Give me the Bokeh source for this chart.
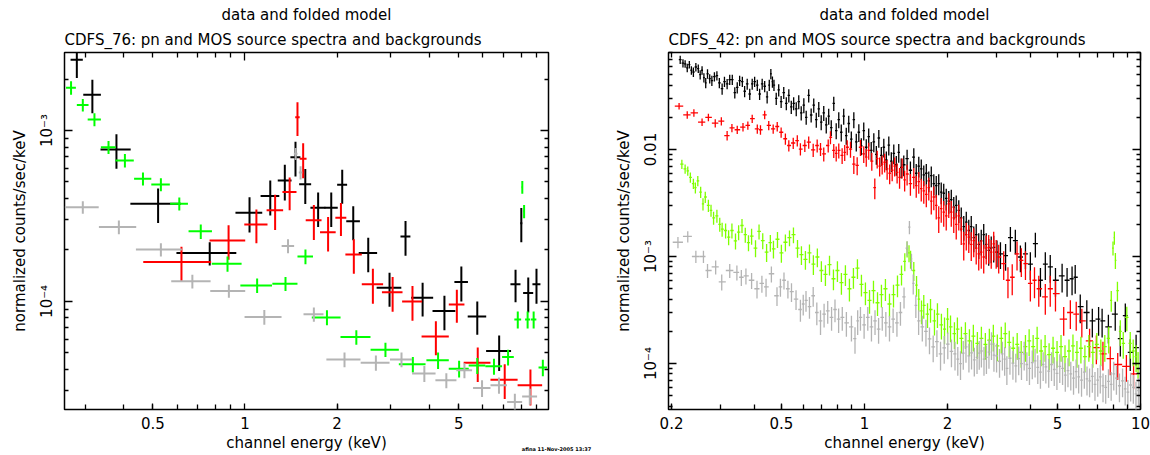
from bokeh.plotting import figure
from bokeh.layouts import row, column
from bokeh.models import Range1d, LogAxis, FixedTicker, CustomJSTickFormatter, Title
from bokeh.core.properties import value
from bokeh.embed import file_html
from bokeh.resources import INLINE

FONT = "DejaVu Sans"

# ---------------- LEFT PANEL (CDFS_76) : (energy keV, half-width keV, value, error)
L_BLACK = [
    (0.282, 0.013, 2.59e-3, 0.56e-3), (0.317, 0.021, 1.62e-3, 0.36e-3),
    (0.380, 0.043, 7.74e-4, 1.77e-4), (0.520, 0.098, 3.73e-4, 0.85e-4),
    (0.767, 0.170, 1.92e-4, 0.30e-4), (1.035, 0.104, 3.30e-4, 0.77e-4),
    (1.210, 0.085, 4.14e-4, 0.96e-4), (1.350, 0.070, 5.10e-4, 1.20e-4),
    (1.463, 0.055, 6.98e-4, 1.60e-4), (1.575, 0.071, 4.84e-4, 1.12e-4),
    (1.735, 0.098, 3.53e-4, 0.81e-4), (1.915, 0.096, 3.53e-4, 0.81e-4),
    (2.080, 0.078, 4.81e-4, 1.08e-4), (2.260, 0.116, 2.94e-4, 0.66e-4),
    (2.530, 0.175, 1.92e-4, 0.44e-4), (2.970, 0.275, 1.20e-4, 0.27e-4),
    (3.350, 0.125, 2.40e-4, 0.55e-4), (3.810, 0.315, 1.05e-4, 0.235e-4),
    (4.490, 0.385, 0.878e-4, 0.20e-4), (5.100, 0.260, 1.30e-4, 0.30e-4),
    (5.750, 0.400, 0.817e-4, 0.18e-4), (6.780, 0.635, 0.512e-4, 0.12e-4),
    (7.670, 0.290, 1.26e-4, 0.27e-4), (8.010, 0.060, 2.87e-4, 0.65e-4),
    (8.440, 0.320, 1.12e-4, 0.26e-4), (8.980, 0.270, 1.26e-4, 0.29e-4),
]
L_RED = [
    (0.620, 0.155, 1.70e-4, 0.39e-4), (0.884, 0.118, 2.27e-4, 0.52e-4),
    (1.090, 0.095, 2.82e-4, 0.63e-4), (1.255, 0.078, 3.41e-4, 0.79e-4),
    (1.400, 0.074, 4.36e-4, 0.95e-4), (1.485, 0.025, 1.196e-3, 0.266e-3),
    (1.550, 0.040, 6.83e-4, 1.58e-4), (1.680, 0.100, 2.98e-4, 0.69e-4),
    (1.870, 0.110, 2.54e-4, 0.58e-4), (2.060, 0.085, 3.09e-4, 0.68e-4),
    (2.270, 0.140, 1.88e-4, 0.43e-4), (2.620, 0.210, 1.26e-4, 0.29e-4),
    (3.040, 0.235, 1.13e-4, 0.26e-4), (3.530, 0.265, 1.00e-4, 0.23e-4),
    (4.210, 0.430, 0.624e-4, 0.14e-4), (4.930, 0.290, 0.96e-4, 0.21e-4),
    (5.770, 0.580, 0.438e-4, 0.10e-4), (7.070, 0.720, 0.348e-4, 0.08e-4),
    (8.580, 0.790, 0.323e-4, 0.077e-4),
]
L_GREEN = [
    (0.270, 0.010, 1.78e-3, 0.16e-3), (0.295, 0.013, 1.41e-3, 0.12e-3),
    (0.322, 0.016, 1.16e-3, 0.10e-3), (0.358, 0.020, 7.99e-4, 0.70e-4),
    (0.405, 0.028, 6.68e-4, 0.60e-4), (0.464, 0.030, 5.22e-4, 0.45e-4),
    (0.531, 0.037, 4.83e-4, 0.42e-4), (0.610, 0.041, 3.73e-4, 0.33e-4),
    (0.717, 0.063, 2.57e-4, 0.25e-4), (0.877, 0.098, 1.66e-4, 0.17e-4),
    (1.096, 0.130, 1.24e-4, 0.12e-4), (1.357, 0.128, 1.27e-4, 0.12e-4),
    (1.577, 0.092, 1.83e-4, 0.18e-4), (1.854, 0.200, 0.806e-4, 0.08e-4),
    (2.313, 0.260, 0.618e-4, 0.06e-4), (2.880, 0.305, 0.522e-4, 0.05e-4),
    (3.540, 0.355, 0.428e-4, 0.045e-4), (4.280, 0.360, 0.452e-4, 0.05e-4),
    (5.015, 0.377, 0.404e-4, 0.045e-4), (5.750, 0.360, 0.421e-4, 0.045e-4),
    (6.520, 0.410, 0.417e-4, 0.045e-4), (7.250, 0.320, 0.472e-4, 0.05e-4),
    (7.800, 0.200, 0.784e-4, 0.09e-4), (8.070, 0.040, 4.66e-4, 0.40e-4),
    (8.180, 0.040, 3.37e-4, 0.30e-4), (8.400, 0.160, 0.784e-4, 0.09e-4),
    (8.790, 0.180, 0.784e-4, 0.09e-4), (9.420, 0.300, 0.410e-4, 0.045e-4),
]
L_GREY = [
    (0.295, 0.0375, 3.56e-4, 0.30e-4), (0.387, 0.054, 2.72e-4, 0.25e-4),
    (0.531, 0.091, 2.01e-4, 0.18e-4), (0.673, 0.099, 1.31e-4, 0.12e-4),
    (0.886, 0.116, 1.15e-4, 0.10e-4), (1.157, 0.160, 0.81e-4, 0.08e-4),
    (1.383, 0.065, 2.11e-4, 0.20e-4), (1.465, 0.020, 7.31e-4, 0.60e-4),
    (1.520, 0.020, 5.67e-4, 0.50e-4), (1.680, 0.126, 0.841e-4, 0.08e-4),
    (2.116, 0.270, 0.457e-4, 0.045e-4), (2.680, 0.290, 0.438e-4, 0.045e-4),
    (3.250, 0.270, 0.457e-4, 0.045e-4), (3.860, 0.340, 0.378e-4, 0.04e-4),
    (4.555, 0.360, 0.345e-4, 0.035e-4), (5.220, 0.310, 0.395e-4, 0.04e-4),
    (5.960, 0.390, 0.311e-4, 0.035e-4), (6.770, 0.420, 0.323e-4, 0.035e-4),
    (7.630, 0.430, 0.258e-4, 0.03e-4), (8.540, 0.480, 0.278e-4, 0.03e-4),
]

# ---------------- RIGHT PANEL (CDFS_42) : (energy keV, value, relative error)
R_BLACK = [
    (0.215, 0.069, .09), (0.220, 0.064, .09), (0.224, 0.063, .08), (0.228, 0.058, .09),
    (0.232, 0.062, .08), (0.236, 0.055, .09), (0.240, 0.053, .10), (0.245, 0.059, .09),
    (0.250, 0.057, .09), (0.254, 0.050, .10), (0.258, 0.055, .09), (0.262, 0.047, .10),
    (0.266, 0.042, .11), (0.270, 0.051, .10), (0.275, 0.046, .10), (0.280, 0.044, .11),
    (0.286, 0.048, .10), (0.292, 0.049, .10), (0.298, 0.042, .11), (0.305, 0.037, .12),
    (0.311, 0.043, .11), (0.318, 0.041, .11), (0.325, 0.045, .11), (0.332, 0.045, .11),
    (0.339, 0.034, .12), (0.346, 0.038, .12), (0.353, 0.044, .11), (0.361, 0.043, .11),
    (0.368, 0.035, .12), (0.376, 0.041, .12), (0.384, 0.033, .12), (0.392, 0.041, .12),
    (0.400, 0.043, .11), (0.409, 0.040, .12), (0.417, 0.033, .12), (0.426, 0.041, .12),
    (0.435, 0.039, .12), (0.444, 0.031, .13), (0.452, 0.040, .12), (0.458, 0.051, .11),
    (0.464, 0.043, .12), (0.470, 0.040, .12), (0.479, 0.030, .13), (0.489, 0.036, .13),
    (0.499, 0.028, .13), (0.510, 0.034, .13), (0.521, 0.027, .14), (0.532, 0.032, .14),
    (0.543, 0.025, .14), (0.554, 0.027, .14), (0.566, 0.024, .15), (0.578, 0.028, .15),
    (0.590, 0.022, .15), (0.603, 0.026, .16), (0.615, 0.020, .15), (0.628, 0.032, .14),
    (0.641, 0.021, .15), (0.655, 0.026, .15), (0.669, 0.019, .16), (0.683, 0.024, .16),
    (0.697, 0.018, .16), (0.712, 0.022, .16), (0.727, 0.017, .17), (0.742, 0.0205, .17),
    (0.758, 0.016, .17), (0.774, 0.027, .15), (0.790, 0.015, .17), (0.807, 0.019, .17),
    (0.824, 0.0145, .18), (0.841, 0.0205, .17), (0.859, 0.0135, .18), (0.877, 0.0175, .18),
    (0.896, 0.0125, .18), (0.915, 0.019, .17), (0.934, 0.0118, .19), (0.954, 0.0145, .19),
    (0.974, 0.0108, .18), (0.994, 0.0150, .19), (1.015, 0.0105, .19), (1.036, 0.0132, .19),
    (1.058, 0.0098, .20), (1.081, 0.0118, .20), (1.104, 0.0090, .20), (1.127, 0.0128, .19),
    (1.151, 0.0088, .20), (1.175, 0.0105, .20), (1.200, 0.0080, .20), (1.225, 0.0110, .20),
    (1.251, 0.0078, .21), (1.277, 0.0092, .21), (1.304, 0.0072, .21), (1.331, 0.0094, .20),
    (1.359, 0.0068, .21), (1.388, 0.0072, .22), (1.427, 0.0082, .21), (1.467, 0.0064, .21),
    (1.509, 0.0085, .21), (1.540, 0.0060, .22), (1.573, 0.0070, .22), (1.606, 0.0066, .22),
    (1.640, 0.0058, .22), (1.675, 0.0060, .22), (1.710, 0.0051, .22), (1.746, 0.0057, .22),
    (1.783, 0.0048, .22), (1.820, 0.0046, .23), (1.858, 0.0048, .22), (1.897, 0.0040, .23),
    (1.937, 0.0039, .23), (1.978, 0.0035, .23), (2.020, 0.0033, .24), (2.063, 0.0034, .24),
    (2.106, 0.0029, .24), (2.150, 0.0030, .24), (2.196, 0.0027, .24), (2.242, 0.0023, .25),
    (2.289, 0.0019, .26), (2.338, 0.0021, .25), (2.387, 0.00175, .26), (2.437, 0.0019, .26),
    (2.488, 0.0015, .27), (2.540, 0.0016, .26), (2.594, 0.0013, .27), (2.649, 0.0014, .27),
    (2.704, 0.0016, .26), (2.761, 0.0013, .27), (2.819, 0.00114, .28), (2.879, 0.0012, .28),
    (2.939, 0.00122, .28), (3.020, 0.00110, .28), (3.109, 0.00106, .28), (3.245, 0.00102, .28),
    (3.378, 0.00150, .26), (3.520, 0.00141, .26), (3.672, 0.00099, .28), (3.830, 0.00106, .28),
    (3.990, 0.00085, .29), (4.160, 0.00132, .26), (4.340, 0.00060, .30), (4.520, 0.00085, .29),
    (4.710, 0.00080, .29), (4.920, 0.00060, .30), (5.200, 0.00066, .30), (5.420, 0.00060, .30),
    (5.650, 0.00062, .30), (5.800, 0.00064, .30), (6.050, 0.00034, .30), (6.390, 0.00030, .30),
    (6.690, 0.00025, .30), (7.050, 0.00026, .30), (7.260, 0.00025, .30), (7.650, 0.00022, .30),
    (8.100, 0.00029, .30), (8.450, 0.000171, .32), (8.810, 0.00028, .30), (9.180, 0.000127, .33),
    (9.640, 0.000141, .32),
]
R_RED = [
    (0.213, 0.0254, .07), (0.228, 0.0211, .08), (0.241, 0.0220, .08), (0.258, 0.0180, .08),
    (0.272, 0.0200, .08), (0.288, 0.0176, .09), (0.303, 0.0184, .09), (0.318, 0.0135, .10),
    (0.331, 0.0159, .09), (0.346, 0.0153, .09), (0.363, 0.0162, .09), (0.378, 0.0168, .09),
    (0.392, 0.0194, .09), (0.409, 0.0156, .10), (0.420, 0.0153, .10), (0.435, 0.0211, .09),
    (0.450, 0.0168, .10), (0.467, 0.0156, .10), (0.483, 0.0164, .10), (0.499, 0.0145, .11),
    (0.517, 0.0126, .12), (0.532, 0.0109, .12), (0.552, 0.0115, .12), (0.571, 0.0121, .12),
    (0.586, 0.0101, .13), (0.608, 0.0109, .13), (0.628, 0.0117, .13), (0.652, 0.0099, .14),
    (0.674, 0.0109, .14), (0.693, 0.0101, .14), (0.712, 0.0091, .15), (0.739, 0.0109, .14),
    (0.753, 0.0130, .14), (0.774, 0.0098, .15), (0.790, 0.0092, .16), (0.807, 0.0098, .16),
    (0.830, 0.0088, .17), (0.848, 0.0094, .17), (0.866, 0.0105, .16), (0.890, 0.0101, .17),
    (0.915, 0.0073, .19), (0.941, 0.0071, .19), (0.967, 0.0105, .17), (0.994, 0.0091, .18),
    (1.015, 0.0085, .19), (1.036, 0.0098, .18), (1.063, 0.0078, .19), (1.090, 0.0044, .22),
    (1.112, 0.0082, .19), (1.135, 0.0070, .20), (1.159, 0.0073, .20), (1.183, 0.0076, .20),
    (1.208, 0.0066, .21), (1.234, 0.0060, .21), (1.260, 0.0064, .21), (1.286, 0.0070, .20),
    (1.313, 0.0061, .21), (1.340, 0.0055, .22), (1.369, 0.0068, .21), (1.398, 0.0052, .22),
    (1.427, 0.0059, .22), (1.467, 0.0048, .23), (1.509, 0.0055, .22), (1.540, 0.0046, .23),
    (1.573, 0.0050, .23), (1.606, 0.0043, .24), (1.640, 0.0041, .24), (1.675, 0.0038, .24),
    (1.710, 0.0044, .24), (1.746, 0.0033, .25), (1.783, 0.0036, .25), (1.820, 0.0030, .26),
    (1.858, 0.0023, .28), (1.897, 0.0028, .26), (1.937, 0.0026, .27), (1.978, 0.0024, .27),
    (2.020, 0.0031, .26), (2.063, 0.0026, .27), (2.106, 0.0023, .28), (2.150, 0.0020, .28),
    (2.196, 0.0024, .27), (2.242, 0.0018, .29), (2.289, 0.00131, .30), (2.338, 0.0016, .29),
    (2.387, 0.00152, .29), (2.437, 0.0013, .30), (2.488, 0.00141, .30), (2.540, 0.0012, .30),
    (2.594, 0.00106, .30), (2.649, 0.0011, .30), (2.704, 0.00099, .30), (2.761, 0.0012, .30),
    (2.819, 0.00122, .30), (2.879, 0.0011, .30), (2.939, 0.00131, .30), (3.000, 0.0011, .30),
    (3.064, 0.00099, .30), (3.195, 0.00086, .30), (3.310, 0.00060, .32), (3.430, 0.00064, .32),
    (3.570, 0.00106, .30), (3.700, 0.00092, .30), (3.830, 0.00086, .30), (3.990, 0.00056, .32),
    (4.130, 0.00060, .32), (4.280, 0.00050, .32), (4.520, 0.00042, .32), (4.710, 0.00050, .32),
    (4.920, 0.00045, .32), (5.270, 0.00026, .30), (5.570, 0.00030, .30), (5.850, 0.00029, .30),
    (6.130, 0.00025, .30), (6.540, 0.000163, .30), (6.920, 0.000141, .30), (7.310, 0.000123, .30),
    (7.770, 0.000111, .30), (8.270, 0.000098, .28), (8.890, 0.000094, .28), (9.440, 0.000080, .28),
]
R_GREEN = [
    (0.218, 0.0073, .10), (0.224, 0.0066, .10), (0.229, 0.0063, .10), (0.234, 0.0055, .11),
    (0.240, 0.0048, .11), (0.244, 0.0044, .12), (0.249, 0.0051, .11), (0.255, 0.0040, .12),
    (0.260, 0.0031, .13), (0.265, 0.0036, .12), (0.272, 0.0030, .13), (0.278, 0.0027, .13),
    (0.284, 0.0023, .14), (0.292, 0.0024, .14), (0.299, 0.0020, .15), (0.305, 0.0018, .15),
    (0.314, 0.00175, .16), (0.322, 0.00152, .16), (0.331, 0.00175, .16), (0.341, 0.00140, .17),
    (0.350, 0.00169, .16), (0.360, 0.00195, .15), (0.370, 0.00160, .16), (0.380, 0.00135, .17),
    (0.390, 0.00155, .17), (0.403, 0.00120, .18), (0.415, 0.00172, .16), (0.428, 0.00141, .17),
    (0.442, 0.00110, .19), (0.456, 0.00135, .18), (0.468, 0.00118, .19), (0.484, 0.00145, .17),
    (0.500, 0.00108, .19), (0.517, 0.00136, .18), (0.535, 0.00150, .17), (0.553, 0.00160, .17),
    (0.572, 0.00120, .19), (0.591, 0.00104, .20), (0.611, 0.00094, .20), (0.632, 0.00108, .20),
    (0.653, 0.00085, .21), (0.675, 0.00099, .20), (0.698, 0.00074, .22), (0.722, 0.00068, .22),
    (0.747, 0.00084, .21), (0.772, 0.00062, .22), (0.798, 0.00074, .22), (0.825, 0.00057, .23),
    (0.853, 0.00068, .22), (0.882, 0.00050, .24), (0.912, 0.00064, .22), (0.943, 0.00078, .21),
    (0.975, 0.00055, .23), (1.008, 0.00046, .24), (1.043, 0.00039, .25), (1.078, 0.00048, .24),
    (1.115, 0.00037, .25), (1.152, 0.00044, .24), (1.191, 0.00050, .23), (1.232, 0.00036, .25),
    (1.274, 0.00044, .24), (1.317, 0.00054, .23), (1.362, 0.00068, .21), (1.400, 0.00090, .19),
    (1.427, 0.00118, .17), (1.450, 0.00108, .18), (1.469, 0.00095, .19), (1.509, 0.00074, .20),
    (1.544, 0.00054, .22), (1.573, 0.00040, .24), (1.609, 0.00031, .25), (1.640, 0.00035, .25),
    (1.692, 0.00029, .26), (1.735, 0.00032, .25), (1.793, 0.00025, .27), (1.838, 0.00029, .26),
    (1.900, 0.00023, .27), (1.950, 0.00021, .28), (2.000, 0.00026, .27), (2.050, 0.00022, .28),
    (2.118, 0.00019, .28), (2.171, 0.00021, .28), (2.245, 0.000172, .28), (2.321, 0.000190, .28),
    (2.400, 0.000163, .28), (2.480, 0.000180, .28), (2.565, 0.000154, .28), (2.652, 0.000172, .28),
    (2.741, 0.000151, .28), (2.834, 0.000165, .28), (2.930, 0.000180, .28), (3.029, 0.000146, .28),
    (3.131, 0.000172, .28), (3.236, 0.000190, .27), (3.346, 0.000158, .28), (3.458, 0.000139, .28),
    (3.575, 0.000151, .28), (3.696, 0.000127, .28), (3.830, 0.000144, .28), (3.950, 0.000163, .28),
    (4.084, 0.000144, .28), (4.222, 0.000172, .28), (4.365, 0.000131, .28), (4.512, 0.000144, .28),
    (4.665, 0.000121, .28), (4.822, 0.000139, .28), (4.985, 0.000127, .28), (5.153, 0.000144, .28),
    (5.327, 0.000116, .28), (5.507, 0.000131, .28), (5.693, 0.000146, .28), (5.885, 0.000127, .28),
    (6.083, 0.000139, .28), (6.289, 0.000116, .28), (6.501, 0.000144, .28), (6.720, 0.000127, .28),
    (6.947, 0.000151, .28), (7.182, 0.000131, .28), (7.424, 0.000144, .28), (7.671, 0.000172, .28),
    (7.836, 0.00039, .22), (7.950, 0.00120, .15), (8.040, 0.00150, .14), (8.110, 0.00092, .17),
    (8.250, 0.00048, .21), (8.450, 0.00020, .27), (8.660, 0.000154, .28), (8.920, 0.00027, .26),
    (9.180, 0.000154, .28), (9.410, 0.000131, .28), (9.640, 0.000116, .28), (9.800, 0.000100, .28),
]
R_GREY = [
    (0.211, 0.00136, .12), (0.229, 0.00154, .12), (0.245, 0.00100, .13), (0.261, 0.00100, .13),
    (0.270, 0.00074, .15), (0.289, 0.00080, .15), (0.304, 0.00058, .17), (0.325, 0.00074, .15),
    (0.345, 0.00071, .16), (0.358, 0.00064, .17), (0.372, 0.00066, .17), (0.390, 0.00060, .17),
    (0.408, 0.00050, .19), (0.425, 0.00056, .18), (0.440, 0.00052, .19), (0.460, 0.00069, .17),
    (0.482, 0.00043, .20), (0.496, 0.00052, .19), (0.511, 0.00060, .18), (0.528, 0.00050, .19),
    (0.544, 0.00047, .20), (0.565, 0.00040, .21), (0.586, 0.00032, .23), (0.600, 0.00036, .22),
    (0.614, 0.00039, .22), (0.632, 0.00034, .23), (0.652, 0.00043, .21), (0.672, 0.00030, .24),
    (0.693, 0.00025, .26), (0.714, 0.00029, .25), (0.736, 0.00031, .24), (0.760, 0.00027, .25),
    (0.782, 0.00032, .24), (0.806, 0.00026, .26), (0.831, 0.00027, .25), (0.860, 0.00024, .26),
    (0.897, 0.00022, .27), (0.924, 0.000171, .28), (0.945, 0.00025, .26), (0.967, 0.00027, .25),
    (0.997, 0.00023, .26), (1.028, 0.00027, .25), (1.060, 0.00022, .27), (1.092, 0.00025, .26),
    (1.125, 0.00021, .27), (1.160, 0.00027, .25), (1.195, 0.00024, .26), (1.232, 0.00022, .27),
    (1.270, 0.00026, .26), (1.311, 0.00024, .26), (1.350, 0.00030, .25), (1.391, 0.00042, .22),
    (1.427, 0.00120, .16), (1.455, 0.00188, .14), (1.480, 0.00090, .18), (1.502, 0.00056, .21),
    (1.535, 0.00035, .24), (1.571, 0.00025, .26), (1.620, 0.00022, .27), (1.670, 0.00020, .28),
    (1.720, 0.00017, .28), (1.774, 0.000143, .28), (1.830, 0.000160, .28), (1.886, 0.000123, .30),
    (1.945, 0.000140, .29), (2.004, 0.000152, .28), (2.066, 0.000130, .29), (2.128, 0.000123, .30),
    (2.178, 0.000110, .30), (2.228, 0.000100, .30), (2.280, 0.000125, .30), (2.332, 0.000143, .29),
    (2.390, 0.000118, .30), (2.443, 0.000126, .30), (2.500, 0.000108, .30), (2.557, 0.000114, .30),
    (2.605, 0.000125, .30), (2.652, 0.000131, .30), (2.710, 0.000110, .30), (2.766, 0.000114, .30),
    (2.825, 0.000128, .30), (2.885, 0.000152, .29), (2.945, 0.000120, .30), (3.010, 0.000118, .30),
    (3.085, 0.000105, .30), (3.160, 0.000123, .30), (3.220, 0.000110, .30), (3.280, 0.000090, .30),
    (3.365, 0.000112, .30), (3.450, 0.000101, .30), (3.535, 0.000095, .30), (3.620, 0.000111, .30),
    (3.705, 0.000100, .30), (3.790, 0.000123, .30), (3.875, 0.000098, .30), (3.960, 0.000090, .30),
    (4.055, 0.000102, .30), (4.150, 0.000106, .30), (4.245, 0.000092, .30), (4.340, 0.000083, .30),
    (4.440, 0.000098, .30), (4.540, 0.000093, .30), (4.650, 0.000085, .30), (4.760, 0.000098, .30),
    (4.870, 0.000088, .30), (4.980, 0.000081, .30), (5.100, 0.000094, .30), (5.220, 0.000090, .30),
    (5.340, 0.000078, .30), (5.460, 0.000086, .30), (5.590, 0.000080, .30), (5.720, 0.000073, .30),
    (5.845, 0.000084, .30), (5.970, 0.000075, .30), (6.115, 0.000070, .30), (6.260, 0.000083, .30),
    (6.400, 0.000072, .30), (6.540, 0.000069, .30), (6.690, 0.000076, .30), (6.840, 0.000064, .30),
    (7.000, 0.000070, .30), (7.150, 0.000075, .30), (7.315, 0.000062, .30), (7.480, 0.000060, .30),
    (7.655, 0.000068, .30), (7.830, 0.000064, .30), (8.000, 0.000080, .30), (8.180, 0.000073, .30),
    (8.390, 0.000062, .30), (8.610, 0.000069, .30), (8.800, 0.000058, .30), (9.000, 0.000054, .30),
    (9.210, 0.000063, .30), (9.420, 0.000060, .30), (9.630, 0.000052, .30), (9.830, 0.000056, .30),
]

# ---------------- text, ticks, ranges
TITLE_1 = "data and folded model"
L_TITLE_2 = "CDFS_76: pn and MOS source spectra and backgrounds"
R_TITLE_2 = "CDFS_42: pn and MOS source spectra and backgrounds"
X_LABEL = "channel energy (keV)"
Y_LABEL = "normalized counts/sec/keV"
STAMP = "afina 11-Nov-2005 13:37"

L_X_TICKS = [0.5, 1, 2, 5]
L_X_LABELS = ["0.5", "1", "2", "5"]
L_X_MINOR = [0.3, 0.4, 0.5, 0.6, 0.7, 0.8, 0.9, 2, 3, 4, 5, 6, 7, 8, 9]
L_Y_TICKS = [1e-4, 1e-3]
L_Y_LABELS = ["10\u207b\u2074", "10\u207b\u00b3"]
L_Y_MINOR = [3e-5, 4e-5, 5e-5, 6e-5, 7e-5, 8e-5, 9e-5,
             2e-4, 3e-4, 4e-4, 5e-4, 6e-4, 7e-4, 8e-4, 9e-4, 2e-3]

R_X_TICKS = [0.2, 0.5, 1, 2, 5, 10]
R_X_LABELS = ["0.2", "0.5", "1", "2", "5", "10"]
R_X_MINOR = [0.2, 0.3, 0.4, 0.5, 0.6, 0.7, 0.8, 0.9, 2, 3, 4, 5, 6, 7, 8, 9]
R_Y_TICKS = [1e-4, 1e-3, 1e-2]
R_Y_LABELS = ["10\u207b\u2074", "10\u207b\u00b3", "0.01"]
R_Y_MINOR = [4e-5, 5e-5, 6e-5, 7e-5, 8e-5, 9e-5,
             2e-4, 3e-4, 4e-4, 5e-4, 6e-4, 7e-4, 8e-4, 9e-4,
             2e-3, 3e-3, 4e-3, 5e-3, 6e-3, 7e-3, 8e-3, 9e-3,
             2e-2, 3e-2, 4e-2, 5e-2, 6e-2, 7e-2, 8e-2]

L_XRANGE = (0.257, 9.83)
L_YRANGE = (2.33e-5, 2.86e-3)
R_XRANGE = (0.195, 10.0)
R_YRANGE = (3.72e-5, 0.0806)

C_BLACK = "#000000"
C_RED = "#ff0000"
L_GREEN_C = "#00ff00"
R_GREEN_C = "#7fff00"
C_GREY = "#b4b4b4"


def fmt(ticks, labels):
    return CustomJSTickFormatter(args=dict(t=list(ticks), l=list(labels)), code="""
        for (let i = 0; i < t.length; i++) {
            if (Math.abs(tick / t[i] - 1) < 1e-6) { return l[i]; }
        }
        return "";
    """)


def blank():
    return CustomJSTickFormatter(code="return '';")


def style_axis(ax, major_in, minor_in):
    ax.axis_line_color = None
    ax.major_tick_in = major_in
    ax.major_tick_out = 0
    ax.minor_tick_in = minor_in
    ax.minor_tick_out = 0
    ax.major_tick_line_color = "black"
    ax.minor_tick_line_color = "black"
    ax.major_tick_line_width = 1.3
    ax.minor_tick_line_width = 1.3
    ax.major_label_text_font = FONT
    ax.major_label_text_font_size = "15px"
    ax.major_label_text_color = "black"
    ax.axis_label_text_font = FONT
    ax.axis_label_text_font_size = "15px"
    ax.axis_label_text_font_style = "normal"
    ax.axis_label_text_color = "black"


def make_panel(width, border_l, border_r, xr, yr, xt, xl, xminor, yt, yl, yminor, title2):
    p = figure(width=width, height=455, x_axis_type="log", y_axis_type="log",
               x_range=Range1d(*xr), y_range=Range1d(*yr),
               output_backend="svg", toolbar_location=None,
               min_border_left=border_l, min_border_right=border_r,
               min_border_top=52, min_border_bottom=46)
    p.xgrid.visible = False
    p.ygrid.visible = False
    p.outline_line_color = "black"
    p.outline_line_width = 1.5
    p.background_fill_color = "white"
    p.border_fill_color = "white"

    xb = p.below[0]
    xb.ticker = FixedTicker(ticks=xt, minor_ticks=xminor)
    xb.formatter = fmt(xt, xl)
    style_axis(xb, 6, 5)
    xb.major_label_standoff = 7
    xb.axis_label = X_LABEL
    xb.axis_label_standoff = 2

    yleft = p.left[0]
    yleft.ticker = FixedTicker(ticks=yt, minor_ticks=yminor)
    yleft.formatter = fmt(yt, yl)
    style_axis(yleft, 8, 4)
    yleft.major_label_orientation = "parallel"
    yleft.major_label_standoff = 8
    yleft.axis_label = Y_LABEL
    yleft.axis_label_standoff = 7

    top = LogAxis(ticker=FixedTicker(ticks=[1, 10], minor_ticks=xminor), formatter=blank())
    style_axis(top, 8, 5)
    top.major_label_standoff = 0
    top.major_label_text_font_size = "0px"
    p.add_layout(top, "above")

    right = LogAxis(ticker=FixedTicker(ticks=yt, minor_ticks=yminor), formatter=blank())
    style_axis(right, 8, 4)
    right.major_label_standoff = 0
    right.major_label_text_font_size = "0px"
    p.add_layout(right, "right")

    p.add_layout(Title(text=title2, align="left", text_font=FONT, text_font_size="15px",
                       text_font_style="normal", text_color="black", standoff=7), "above")
    p.add_layout(Title(text=TITLE_1, align="center", text_font=FONT, text_font_size="15px",
                       text_font_style="normal", text_color="black", standoff=4), "above")
    return p


def crosses_hw(p, data, color, lw):
    E = [d[0] for d in data]
    w = [d[1] for d in data]
    v = [d[2] for d in data]
    e = [d[3] for d in data]
    p.segment(x0=[a - b for a, b in zip(E, w)], x1=[a + b for a, b in zip(E, w)],
              y0=v, y1=v, line_color=color, line_width=lw)
    p.segment(x0=E, x1=E, y0=[max(a - b, a * 0.02) for a, b in zip(v, e)],
              y1=[a + b for a, b in zip(v, e)], line_color=color, line_width=lw)


def crosses_rel(p, data, color, lw):
    E = [d[0] for d in data]
    v = [d[1] for d in data]
    r = [d[2] for d in data]
    n = len(E)
    lo, hi = [], []
    for i in range(n):
        lo.append((E[i - 1] + E[i]) / 2 if i > 0 else E[0] - (E[1] - E[0]) / 2)
        hi.append((E[i] + E[i + 1]) / 2 if i < n - 1 else E[-1] + (E[-1] - E[-2]) / 2)
    p.segment(x0=lo, x1=hi, y0=v, y1=v, line_color=color, line_width=lw)
    p.segment(x0=E, x1=E, y0=[a * (1 - b) for a, b in zip(v, r)],
              y1=[a * (1 + b) for a, b in zip(v, r)], line_color=color, line_width=lw)


# ---------------- left panel
p1 = make_panel(600, 64, 52, L_XRANGE, L_YRANGE, L_X_TICKS, L_X_LABELS, L_X_MINOR,
                L_Y_TICKS, L_Y_LABELS, L_Y_MINOR, L_TITLE_2)
crosses_hw(p1, L_BLACK, C_BLACK, 2)
crosses_hw(p1, L_RED, C_RED, 2)
crosses_hw(p1, L_GREEN, L_GREEN_C, 2)
crosses_hw(p1, L_GREY, C_GREY, 2)

# ---------------- right panel
p2 = make_panel(550, 68, 10, R_XRANGE, R_YRANGE, R_X_TICKS, R_X_LABELS, R_X_MINOR,
                R_Y_TICKS, R_Y_LABELS, R_Y_MINOR, R_TITLE_2)
crosses_rel(p2, R_BLACK, C_BLACK, 1.3)
crosses_rel(p2, R_RED, C_RED, 1.3)
crosses_rel(p2, R_GREEN, R_GREEN_C, 1.3)
crosses_rel(p2, R_GREY, C_GREY, 1.3)

# ---------------- small plot stamp (its own tiny canvas, placed absolutely)
ps = figure(width=84, height=14, output_backend="svg", toolbar_location=None,
            x_range=Range1d(0, 1), y_range=Range1d(0, 1),
            x_axis_location=None, y_axis_location=None, min_border=0)
ps.grid.visible = False
ps.outline_line_color = None
ps.background_fill_color = None
ps.border_fill_color = None
ps.text(x=[0.04], y=[0.5], text=[STAMP], text_font=value(FONT), text_font_size=value("5px"),
        text_font_style="bold", text_color="black", text_baseline="middle")
ps.styles = {"position": "absolute", "left": "518px", "top": "441px"}

layout = column(row(p1, p2), ps)
open("out.html", "w").write(file_html(layout, INLINE))
